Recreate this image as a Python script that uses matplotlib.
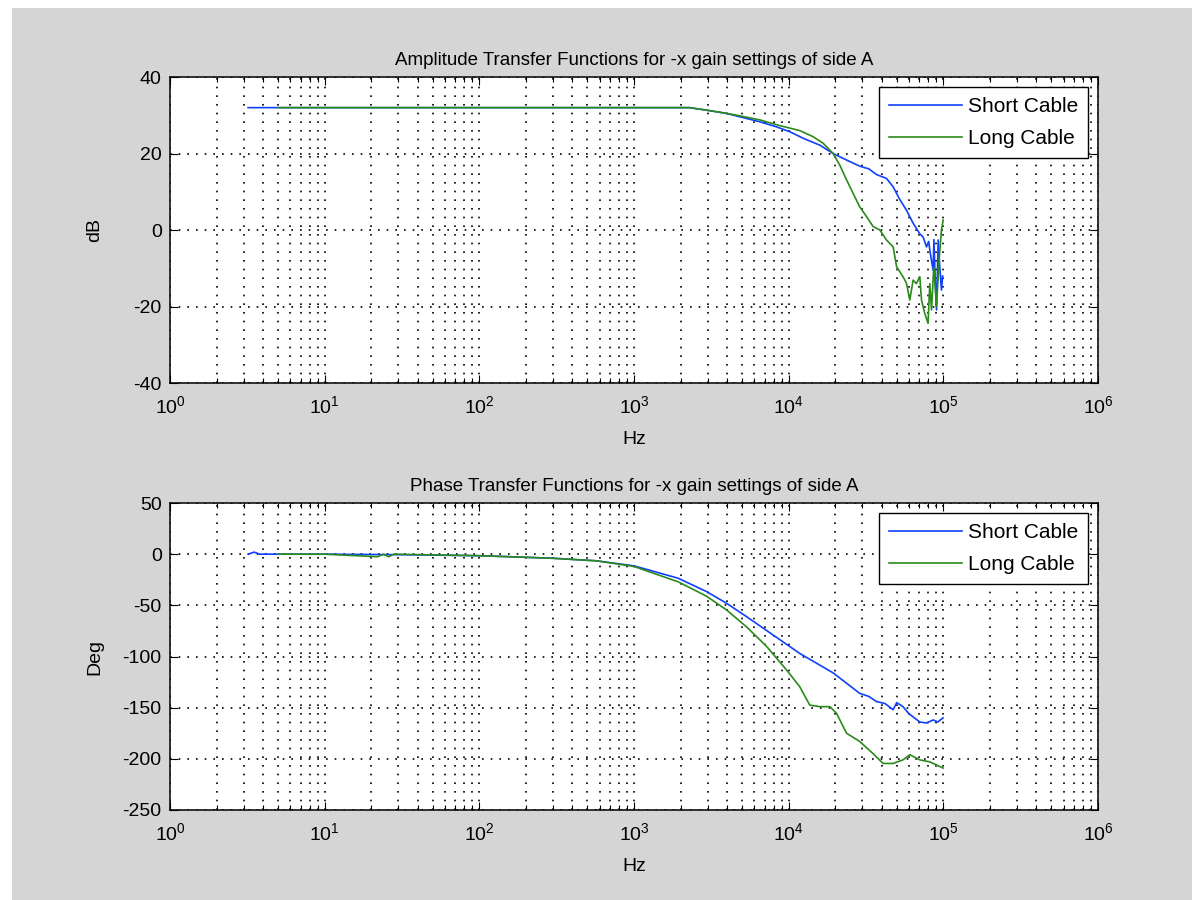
import numpy as np
import matplotlib
matplotlib.use("Agg")
import matplotlib.pyplot as plt
from matplotlib.patches import Rectangle
from matplotlib.ticker import FixedLocator, NullFormatter

plt.rcParams['font.family'] = ['Liberation Sans', 'DejaVu Sans']
plt.rcParams['axes.unicode_minus'] = False

# amplitude, short cable
amp_freq_short = [3.2, 5, 10, 100, 1000, 2290, 3100, 3970, 4840, 6510, 8320, 10180,
                  12400, 15900, 19400, 23700, 28800, 33000, 37000, 42900, 47400,
                  52300, 57800, 63800, 70500, 74000, 77900, 80500, 81800, 83900,
                  85900, 87000, 88500, 90400, 92700, 95000, 97300, 99000]
amp_db_short = [32, 32, 32, 32, 32, 32, 31.2, 30.5, 29.6, 28.3, 27.0, 25.7,
                24.0, 22.2, 20.0, 18.3, 16.7, 16.0, 14.5, 13.5, 11.3,
                8.0, 5.2, 1.8, -1.0, -1.8, -4.4, -3.0, -5.2, -8.0,
                -10.5, -2.5, -12.0, -20.9, -2.6, -10.0, -15.7, -12.0]

# amplitude, long cable
amp_freq_long = [5, 10, 100, 1000, 2290, 3100, 4380, 6510, 8770, 11800, 14400, 16700,
                 19400, 21400, 23700, 26100, 28800, 31900, 35200, 38900, 42900, 47400,
                 49900, 54900, 57800, 60700, 63800, 67000, 70500, 72300, 75900, 79700,
                 81800, 83900, 86800, 90400, 94000, 97300, 99800]
amp_db_long = [32, 32, 32, 32, 32, 31.2, 30.2, 28.8, 27.3, 26.0, 24.4, 22.7,
               20.0, 17.0, 13.1, 9.6, 6.1, 3.5, 0.9, 0.0, -2.6, -4.4,
               -9.6, -12.2, -13.9, -18.3, -13.1, -14.0, -12.2, -18.3, -21.8, -24.4,
               -14.0, -20.9, -9.6, -20.0, -7.8, 0.0, 2.6]

# phase, short cable
ph_freq_short = [3.2, 3.5, 3.8, 5, 10, 30, 100, 158, 299, 573, 1000, 1930, 2940,
                 3970, 5340, 7940, 11800, 19400, 28800, 33000, 37000, 42000, 47400,
                 50000, 54900, 60000, 63800, 70500, 77900, 86100, 92000, 99700]
ph_deg_short = [0, 2, 0, 0, 0, -0.5, -1.5, -2.5, -4, -6.5, -11.4, -23.5, -36.5,
                -48, -61, -79, -97, -116, -136, -139, -144, -146, -152,
                -145, -149, -156, -159, -164, -165, -162, -164, -160]

# phase, long cable
ph_freq_long = [5, 10, 22, 24, 26, 28, 100, 158, 299, 573, 1000, 1930, 2940, 3970,
                5340, 7190, 9680, 11800, 13700, 15900, 18500, 20400, 23700, 28800,
                35200, 40800, 47400, 54900, 60700, 70500, 81800, 99700]
ph_deg_long = [0, 0, -2.5, 0, -2.5, 0, -1.5, -2.5, -4, -6.5, -12, -27, -41, -54.5,
               -71, -90, -113, -129.5, -147.5, -149, -149, -155.5, -175, -183,
               -195, -204.5, -204.5, -201, -196, -201, -203, -209]

decades = [1, 10, 100, 1e3, 1e4, 1e5, 1e6]
minor_x = [d * k for d in decades[:-1] for k in range(2, 10)]

blue = '#1040ff'
green = '#2a8a1a'

fig = plt.figure(figsize=(11.92, 9.0), dpi=100, facecolor='white')
fig.patches.append(Rectangle((12 / 1192, 0), 1, 1 - 8 / 900, transform=fig.transFigure,
                             facecolor='#d5d5d5', edgecolor='none', zorder=-10))

ax1 = fig.add_axes([0.1426, 0.5744, 0.7785, 0.3400])
ax2 = fig.add_axes([0.1426, 0.1000, 0.7785, 0.3411])

panels = [
    (ax1, amp_freq_short, amp_db_short, amp_freq_long, amp_db_long,
     'Amplitude Transfer Functions for -x gain settings of side A', 'dB', (-40, 40), 20),
    (ax2, ph_freq_short, ph_deg_short, ph_freq_long, ph_deg_long,
     'Phase Transfer Functions for -x gain settings of side A', 'Deg', (-250, 50), 50),
]

for ax, fs, ys, fl, yl, title, ylab, ylim, ystep in panels:
    ax.plot(fs, ys, color=blue, lw=1.2, label='Short Cable')
    ax.plot(fl, yl, color=green, lw=1.2, label='Long Cable')
    ax.set_xscale('log')
    ax.set_xlim(1, 1e6)
    ax.set_ylim(*ylim)
    ax.set_yticks(np.arange(ylim[0], ylim[1] + 1, ystep))
    ax.xaxis.set_major_locator(FixedLocator(decades))
    ax.xaxis.set_minor_locator(FixedLocator(minor_x))
    ax.xaxis.set_minor_formatter(NullFormatter())
    ax.grid(True, which='major', color='black', ls=(0, (1, 4.2)), lw=1.2)
    ax.grid(True, which='minor', axis='x', color='black', ls=(0, (1, 4.2)), lw=1.2)
    ax.tick_params(which='both', direction='in', top=True, right=True, labelsize=14, width=0.8)
    ax.tick_params(which='major', length=5.5, pad=6)
    ax.tick_params(axis='x', which='major', pad=9)
    ax.tick_params(which='minor', length=3.5)
    for sp in ax.spines.values():
        sp.set_linewidth(1.1)
    ax.set_title(title, fontsize=13.5, pad=9)
    ax.set_xlabel('Hz', fontsize=14, labelpad=10)
    ax.set_ylabel(ylab, fontsize=14)
    ax.yaxis.set_label_coords(-0.072, 0.5)
    leg = ax.legend(loc='upper right', fontsize=15, fancybox=False, framealpha=1,
                    edgecolor='black', handlelength=3.5, handletextpad=0.3,
                    labelspacing=0.65, borderpad=0.45, borderaxespad=0.5)
    leg.get_frame().set_linewidth(1.0)

fig.savefig('out.png', dpi=100, facecolor=fig.get_facecolor())
